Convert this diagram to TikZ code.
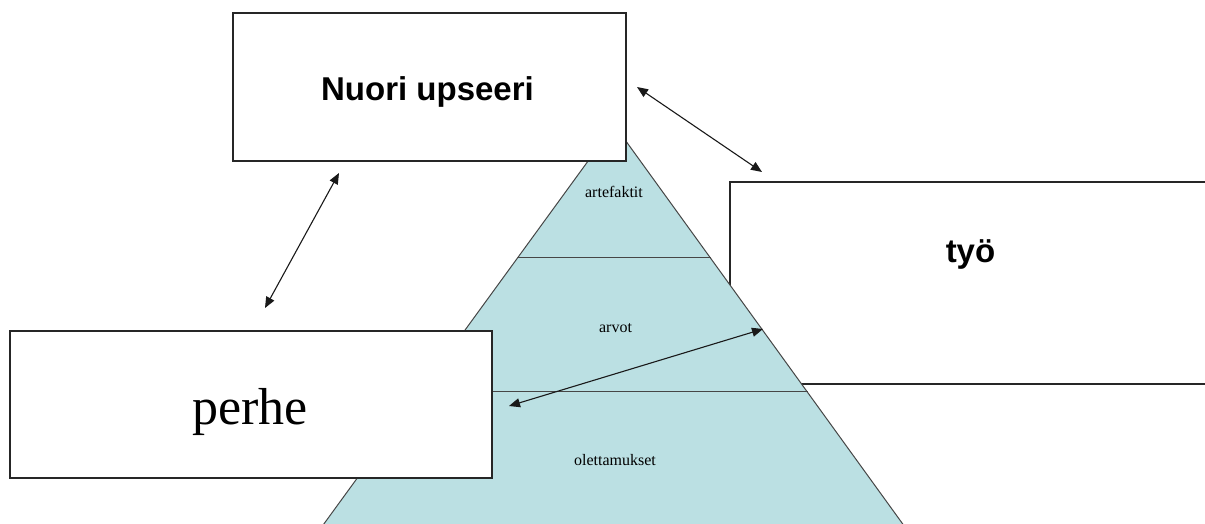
\documentclass[tikz,border=0pt]{standalone}
\usepackage{fontspec}
\setmainfont{Liberation Serif}
\newfontfamily\headsans{Liberation Sans}
\usetikzlibrary{arrows.meta}
\definecolor{layerfill}{RGB}{187,224,227}
\definecolor{edgegray}{RGB}{70,70,70}
\tikzset{
  box/.style={draw=black!85, line width=1.2pt, fill=white, inner sep=0pt, outer sep=0pt},
  layerline/.style={draw=edgegray, line width=1pt},
  headtext/.style={font=\headsans\bfseries\fontsize{33}{38}\selectfont, anchor=base, inner sep=0pt},
  bigserif/.style={font=\fontsize{52}{60}\selectfont, anchor=base, inner sep=0pt},
  layertext/.style={font=\fontsize{16}{19}\selectfont, anchor=base, inner sep=0pt},
  link/.style={{Triangle[length=11pt,width=9pt]}-{Triangle[length=11pt,width=9pt]}, line width=1.1pt, black!90}
}
\begin{document}
\begin{tikzpicture}[x=1pt,y=-1pt]
\useasboundingbox (0,0) rectangle (1205,523);
\clip (0,0) rectangle (1205,523);

% work box, partly covered by the culture pyramid
\node[box, minimum width=490pt, minimum height=202pt] (tyo) at (975,283) {};
\node[headtext] (tyotext) at (970.5,262) {työ};

% culture pyramid in three layers
\coordinate (apex) at (614.3,125);
\coordinate (baseL) at (310,543);
\coordinate (baseR) at (916.5,543);
\fill[layerfill] (apex) -- (baseL) -- (baseR) -- cycle;
\draw[layerline] (baseL) -- (apex) -- (baseR);
\draw[layerline] (518,257) -- (710.5,257);
\draw[layerline] (420,391) -- (808,391);
\node[layertext] (artefaktit) at (614,197) {artefaktit};
\node[layertext] (arvot) at (615.5,332) {arvot};
\node[layertext] (olettamukset) at (615,465) {olettamukset};

% young officer and family boxes
\node[box, minimum width=393pt, minimum height=148pt] (nuori) at (429.5,87) {};
\node[headtext] (nuoritext) at (427.5,100) {Nuori upseeri};
\node[box, minimum width=482pt, minimum height=147pt] (perhe) at (251,404.5) {};
\node[bigserif] (perhetext) at (250,424) {perhe};

% two-way links
\coordinate (n1) at (637,87);
\coordinate (t1) at (762,172);
\coordinate (n2) at (339,173);
\coordinate (p1) at (265,308);
\coordinate (p2) at (509,406);
\coordinate (c1) at (763,329);
\draw[link] (n1) -- (t1);
\draw[link] (n2) -- (p1);
\draw[link] (p2) -- (c1);
\end{tikzpicture}
\end{document}
